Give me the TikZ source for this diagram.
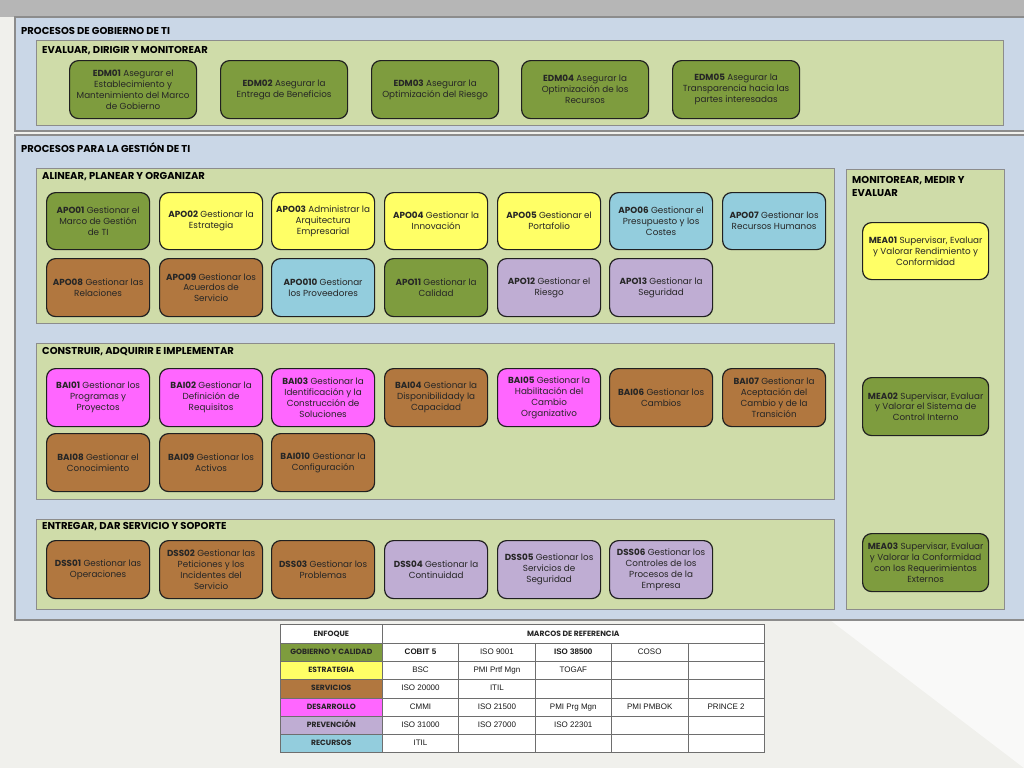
\documentclass[tikz,border=0pt]{standalone}
\usepackage{fontspec}
\setmainfont{Poppins}
\newfontfamily\arialf{Liberation Sans}
\definecolor{bgtop}{HTML}{B6B6B6}
\definecolor{bgmain}{HTML}{F0F0EC}
\definecolor{bglite}{HTML}{F9F9F8}
\definecolor{panblue}{HTML}{CAD7E7}
\definecolor{pangreen}{HTML}{CFDCA9}
\definecolor{panline}{HTML}{8C8C8C}
\definecolor{boxline}{HTML}{202020}
\definecolor{txt}{HTML}{262626}
\definecolor{colive}{HTML}{7E9C3E}
\definecolor{cyellow}{HTML}{FFFF66}
\definecolor{cbrown}{HTML}{B1773F}
\definecolor{cmagenta}{HTML}{FF66FF}
\definecolor{clav}{HTML}{BFADD3}
\definecolor{cblue}{HTML}{93CDDD}
\definecolor{tline}{HTML}{6E6E6E}
\newcommand\pbox[7]{\node[procbox,fill=#2,minimum width=#5,minimum height=#6] (#1) at (#3,#4) {#7};}
\newcommand\tval[4]{\node[tcell] (#1) at ({382+76.4*(#2-1)},{643+18.17*(#3-1)}) {#4};}
\newcommand\tlab[4]{\node[tlabel,fill=#3] (#1) at (280,{643+18.17*(#2-1)}) {#4};}
\begin{document}
\begin{tikzpicture}[x=1pt,y=-1pt,
  procbox/.style={draw=boxline, line width=1.2pt, rounded corners=9pt, anchor=north west,
    align=center, text=txt, inner sep=1pt, font=\fontsize{8.8}{10.9}\selectfont},
  outerpanel/.style={fill=panblue, draw=panline, line width=1.2pt},
  innerpanel/.style={fill=pangreen, draw=panline, line width=0.9pt},
  ttl/.style={anchor=west, inner sep=0pt, text=black, font=\bfseries\fontsize{10}{13.5}\selectfont},
  tcell/.style={draw=tline, line width=0.6pt, fill=white, anchor=north west, minimum width=76.4,
    minimum height=18.17, inner sep=0pt, text height=6pt, text depth=1.5pt,
    font=\arialf\fontsize{8}{9}\selectfont, text=black!90},
  tlabel/.style={draw=tline, line width=0.6pt, anchor=north west, minimum width=102,
    minimum height=18.17, inner sep=0pt, text height=6pt, text depth=1.5pt,
    font=\bfseries\fontsize{7.6}{9}\selectfont, text=black!85}]
\useasboundingbox (0,0) rectangle (1024,768);
% background
\fill[bgmain] (0,0) rectangle (1024,768);
\fill[bglite] (830,620) -- (1024,620) -- (1024,768) -- cycle;
\fill[bgtop] (0,0) rectangle (1024,17);
% outer panels
\draw[outerpanel] (15,17) rectangle (1030,131);
\draw[outerpanel] (15,135) rectangle (1030,620);
\node[ttl] (t1) at (21,31) {PROCESOS DE GOBIERNO DE TI};
\node[ttl] (t2) at (21,148) {PROCESOS PARA LA GESTIÓN DE TI};
% inner panels
\draw[innerpanel] (36,40) rectangle (1003,125);
\draw[innerpanel] (36,168) rectangle (834,323);
\draw[innerpanel] (36,343) rectangle (834,499);
\draw[innerpanel] (36,519) rectangle (834,609);
\draw[innerpanel] (846,169) rectangle (1004,609);
\node[ttl] (s1) at (42,51) {EVALUAR, DIRIGIR Y MONITOREAR};
\node[ttl] (s2) at (42,177) {ALINEAR, PLANEAR Y ORGANIZAR};
\node[ttl] (s3) at (42,352) {CONSTRUIR, ADQUIRIR E IMPLEMENTAR};
\node[ttl] (s4) at (42,527) {ENTREGAR, DAR SERVICIO Y SOPORTE};
\node[ttl, anchor=north west, align=left] (s5) at (852,176) {MONITOREAR, MEDIR Y\\EVALUAR};
% EDM
\pbox{edm01}{colive}{69}{60}{127}{58}{\textbf{EDM01} Asegurar el\\Establecimiento y\\Mantenimiento del Marco\\de Gobierno}
\pbox{edm02}{colive}{220}{60}{127}{58}{\textbf{EDM02} Asegurar la\\Entrega de Beneficios}
\pbox{edm03}{colive}{371}{60}{127}{58}{\textbf{EDM03} Asegurar la\\Optimización del Riesgo}
\pbox{edm04}{colive}{521}{60}{127}{58}{\textbf{EDM04} Asegurar la\\Optimización de los\\Recursos}
\pbox{edm05}{colive}{672}{60}{127}{58}{\textbf{EDM05} Asegurar la\\Transparencia hacia las\\partes interesadas}
% APO
\pbox{apo01}{colive}{46}{192}{103}{57}{\textbf{APO01} Gestionar el\\Marco de Gestión\\de TI}
\pbox{apo02}{cyellow}{159}{192}{103}{57}{\textbf{APO02} Gestionar la\\Estrategia}
\pbox{apo03}{cyellow}{271}{192}{103}{57}{\textbf{APO03} Administrar la\\Arquitectura\\Empresarial}
\pbox{apo04}{cyellow}{384}{192}{103}{57}{\textbf{APO04} Gestionar la\\Innovación}
\pbox{apo05}{cyellow}{497}{192}{103}{57}{\textbf{APO05} Gestionar el\\Portafolio}
\pbox{apo06}{cblue}{609}{192}{103}{57}{\textbf{APO06} Gestionar el\\Presupuesto y los\\Costes}
\pbox{apo07}{cblue}{722}{192}{103}{57}{\textbf{APO07} Gestionar los\\Recursos Humanos}
\pbox{apo08}{cbrown}{46}{258}{103}{58}{\textbf{APO08} Gestionar las\\Relaciones}
\pbox{apo09}{cbrown}{159}{258}{103}{58}{\textbf{APO09} Gestionar los\\Acuerdos de\\Servicio}
\pbox{apo10}{cblue}{271}{258}{103}{58}{\textbf{APO010} Gestionar\\los Proveedores}
\pbox{apo11}{colive}{384}{258}{103}{58}{\textbf{APO11} Gestionar la\\Calidad}
\pbox{apo12}{clav}{497}{258}{103}{58}{\textbf{APO12} Gestionar el\\Riesgo}
\pbox{apo13}{clav}{609}{258}{103}{58}{\textbf{APO13} Gestionar la\\Seguridad}
% BAI
\pbox{bai01}{cmagenta}{46}{368}{103}{58}{\textbf{BAI01} Gestionar los\\Programas y\\Proyectos}
\pbox{bai02}{cmagenta}{159}{368}{103}{58}{\textbf{BAI02} Gestionar la\\Definición de\\Requisitos}
\pbox{bai03}{cmagenta}{271}{368}{103}{58}{\textbf{BAI03} Gestionar la\\Identificación y la\\Construcción de\\Soluciones}
\pbox{bai04}{cbrown}{384}{368}{103}{58}{\textbf{BAI04} Gestionar la\\Disponibilidady la\\Capacidad}
\pbox{bai05}{cmagenta}{497}{368}{103}{58}{\textbf{BAI05} Gestionar la\\Habilitación del\\Cambio\\Organizativo}
\pbox{bai06}{cbrown}{609}{368}{103}{58}{\textbf{BAI06} Gestionar los\\Cambios}
\pbox{bai07}{cbrown}{722}{368}{103}{58}{\textbf{BAI07} Gestionar la\\Aceptación del\\Cambio y de la\\Transición}
\pbox{bai08}{cbrown}{46}{433}{103}{58}{\textbf{BAI08} Gestionar el\\Conocimiento}
\pbox{bai09}{cbrown}{159}{433}{103}{58}{\textbf{BAI09} Gestionar los\\Activos}
\pbox{bai10}{cbrown}{271}{433}{103}{58}{\textbf{BAI010} Gestionar la\\Configuración}
% DSS
\pbox{dss01}{cbrown}{46}{540}{103}{58}{\textbf{DSS01} Gestionar las\\Operaciones}
\pbox{dss02}{cbrown}{159}{540}{103}{58}{\textbf{DSS02} Gestionar las\\Peticiones y los\\Incidentes del\\Servicio}
\pbox{dss03}{cbrown}{271}{540}{103}{58}{\textbf{DSS03} Gestionar los\\Problemas}
\pbox{dss04}{clav}{384}{540}{103}{58}{\textbf{DSS04} Gestionar la\\Continuidad}
\pbox{dss05}{clav}{497}{540}{103}{58}{\textbf{DSS05} Gestionar los\\Servicios de\\Seguridad}
\pbox{dss06}{clav}{609}{540}{103}{58}{\textbf{DSS06} Gestionar los\\Controles de los\\Procesos de la\\Empresa}
% MEA
\pbox{mea01}{cyellow}{862}{222}{126}{57}{\textbf{MEA01} Supervisar, Evaluar\\y Valorar Rendimiento y\\Conformidad}
\pbox{mea02}{colive}{862}{377}{126}{58}{\textbf{MEA02} Supervisar, Evaluar\\y Valorar el Sistema de\\Control Interno}
\pbox{mea03}{colive}{862}{533}{126}{58}{\textbf{MEA03} Supervisar, Evaluar\\y Valorar la Conformidad\\con los Requerimientos\\Externos}
% table
\node[tlabel, fill=white, minimum height=19] (h1) at (280,624) {ENFOQUE};
\node[tlabel, fill=white, minimum height=19, minimum width=382] (h2) at (382,624) {MARCOS DE REFERENCIA};
\tlab{l1}{1}{colive}{GOBIERNO Y CALIDAD}
\tlab{l2}{2}{cyellow}{ESTRATEGIA}
\tlab{l3}{3}{cbrown}{SERVICIOS}
\tlab{l4}{4}{cmagenta}{DESARROLLO}
\tlab{l5}{5}{clav}{PREVENCIÓN}
\tlab{l6}{6}{cblue}{RECURSOS}
\tval{c11}{1}{1}{\bfseries COBIT 5}
\tval{c12}{2}{1}{ISO 9001}
\tval{c13}{3}{1}{\bfseries ISO 38500}
\tval{c14}{4}{1}{COSO}
\tval{c15}{5}{1}{}
\tval{c21}{1}{2}{BSC}
\tval{c22}{2}{2}{PMI Prtf Mgn}
\tval{c23}{3}{2}{TOGAF}
\tval{c24}{4}{2}{}
\tval{c25}{5}{2}{}
\tval{c31}{1}{3}{ISO 20000}
\tval{c32}{2}{3}{ITIL}
\tval{c33}{3}{3}{}
\tval{c34}{4}{3}{}
\tval{c35}{5}{3}{}
\tval{c41}{1}{4}{CMMI}
\tval{c42}{2}{4}{ISO 21500}
\tval{c43}{3}{4}{PMI Prg Mgn}
\tval{c44}{4}{4}{PMI PMBOK}
\tval{c45}{5}{4}{PRINCE 2}
\tval{c51}{1}{5}{ISO 31000}
\tval{c52}{2}{5}{ISO 27000}
\tval{c53}{3}{5}{ISO 22301}
\tval{c54}{4}{5}{}
\tval{c55}{5}{5}{}
\tval{c61}{1}{6}{ITIL}
\tval{c62}{2}{6}{}
\tval{c63}{3}{6}{}
\tval{c64}{4}{6}{}
\tval{c65}{5}{6}{}
\end{tikzpicture}
\end{document}
